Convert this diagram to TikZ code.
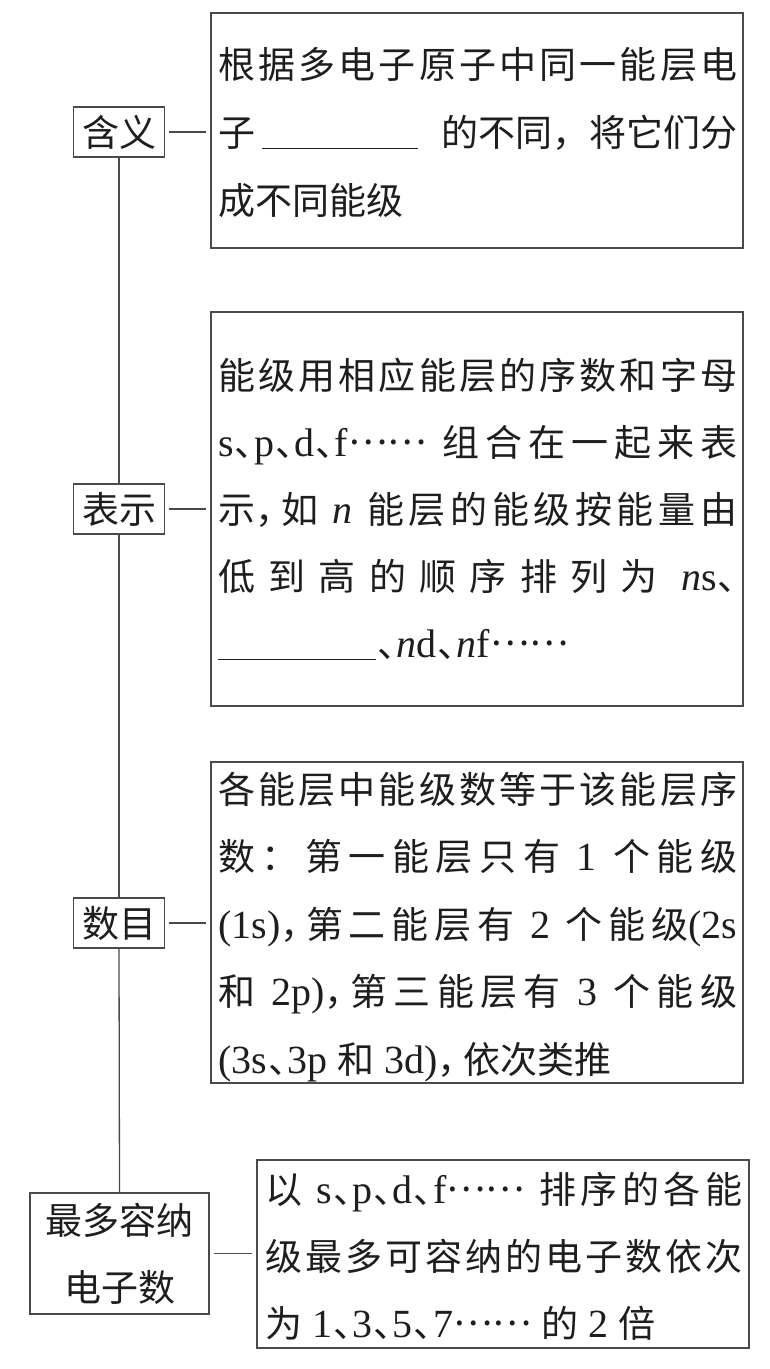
\documentclass[tikz,border=0pt]{standalone}
\usepackage{fontspec}
\setmainfont{Noto Sans CJK SC}
\newfontfamily\lat{Liberation Serif}[Scale=1.08]
\definecolor{ln}{HTML}{4A4A4A}
\definecolor{tx}{HTML}{1E1E1E}
\newcommand\la[1]{{\lat #1}}
\newcommand\gp{\hskip 10pt plus 1fil\relax}
\newcommand\dn{\makebox[0.55em][l]{\hspace{0.03em}、}}
\newcommand\cm{\makebox[0.7em][l]{，}}
\newcommand\elps{\raisebox{0.3em}{……}}
\newcommand\blank[1]{\rule[-3pt]{#1}{1.2pt}}
\newcommand\J[1]{\makebox[519pt][s]{#1}}
\newcommand\JJ[1]{\makebox[477pt][s]{#1}}
\def\spr#1{\sprB#1\relax}
\def\sprB#1{#1\sprC}
\def\sprC#1{\ifx\relax#1\else\hskip0pt plus 1fil\relax#1\expandafter\sprC\fi}
\begin{document}
\begin{tikzpicture}[x=1pt,y=-1pt,
  bx/.style={draw=ln,line width=1.3pt,rectangle,inner sep=0pt},
  lb/.style={draw=ln,line width=1.3pt,rectangle,inner sep=0pt,text=tx,align=center,
    font=\fontsize{37pt}{67pt}\selectfont},
  tn/.style={anchor=base west,inner sep=0pt,text=tx,font=\fontsize{37pt}{67pt}\selectfont},
  conn/.style={draw=ln,line width=1.3pt,shorten <=4pt,shorten >=4pt},
  trunk/.style={draw=ln,line width=1.3pt}]
\useasboundingbox[fill=white] (0,0) rectangle (770,1369);

% big boxes
\node[bx,minimum width=532pt,minimum height=235pt] (b1) at (477,130.5) {};
\node[bx,minimum width=532pt,minimum height=394pt] (b2) at (477,509) {};
\node[bx,minimum width=532pt,minimum height=321pt] (b3) at (477,922.5) {};
\node[bx,minimum width=492pt,minimum height=188pt] (b4) at (503,1254) {};

% labels
\node[lb,minimum width=91pt,minimum height=50pt] (l1) at (119,132) {含义};
\node[lb,minimum width=91pt,minimum height=50pt] (l2) at (119,509) {表示};
\node[lb,minimum width=91pt,minimum height=50pt] (l3) at (119,923) {数目};
\node[lb,minimum width=179pt,minimum height=121pt] (l4) at (119.5,1253.5) {最多容纳\\电子数};

% texts
\node[tn] (t1) at (218,78) {\vtop{\baselineskip=68pt
  \hbox{\J{\spr{根据多电子原子中同一能层电}}}
  \hbox{\J{子\hspace{7pt}\blank{156pt}\gp 的不同，将它们分}}
  \hbox{成不同能级}}};

\node[tn] (t2) at (218,389) {\vtop{\baselineskip=67pt
  \hbox{\J{\spr{能级用相应能层的序数和字母}}}
  \hbox{\J{\la{s}\dn\la{p}\dn\la{d}\dn\la{f}\elps\gp\spr{组合在一起来表}}}
  \hbox{\J{示\cm 如\gp\la{\itshape n}\gp\spr{能层的能级按能量由}}}
  \hbox{\J{\spr{低到高的顺序排列为}\gp\la{\itshape n}\la{s}\dn}}
  \hbox{\blank{158pt}\dn\la{\itshape n}\la{d}\dn\la{\itshape n}\la{f}\elps}}};

\node[tn] (t3) at (218,803) {\vtop{\baselineskip=67.5pt
  \hbox{\J{\spr{各能层中能级数等于该能层序}}}
  \hbox{\J{\spr{数：第一能层只有}\gp\la{1}\gp\spr{个能级}}}
  \hbox{\J{\la{(1s)}\cm\spr{第二能层有}\gp\la{2}\gp\spr{个能级}\la{(2s}}}
  \hbox{\J{和\gp\la{2p)}\cm\spr{第三能层有}\gp\la{3}\gp\spr{个能级}}}
  \hbox{\la{(3s}\dn\la{3p}\gp 和\gp\la{3d)}\cm 依次类推}}};

\node[tn] (t4) at (265,1203) {\vtop{\baselineskip=67pt
  \hbox{\JJ{以\gp\la{s}\dn\la{p}\dn\la{d}\dn\la{f}\elps\gp\spr{排序的各能}}}
  \hbox{\JJ{\spr{级最多可容纳的电子数依次}}}
  \hbox{为\gp\la{1}\dn\la{3}\dn\la{5}\dn\la{7}\elps\gp 的\gp\la{2}\gp 倍}}};

% connectors
\draw[conn] (l1.east) -- (l1.east -| b1.west);
\draw[conn] (l2.east) -- (l2.east -| b2.west);
\draw[conn] (l3.east) -- (l3.east -| b3.west);
\draw[conn] (l4.east) -- (l4.east -| b4.west);

% trunk
\draw[trunk] (l1.south) -- (l2.north);
\draw[trunk] (l2.south) -- (l3.north);
\draw[trunk] (l3.south) -- (l4.north);
\end{tikzpicture}
\end{document}
